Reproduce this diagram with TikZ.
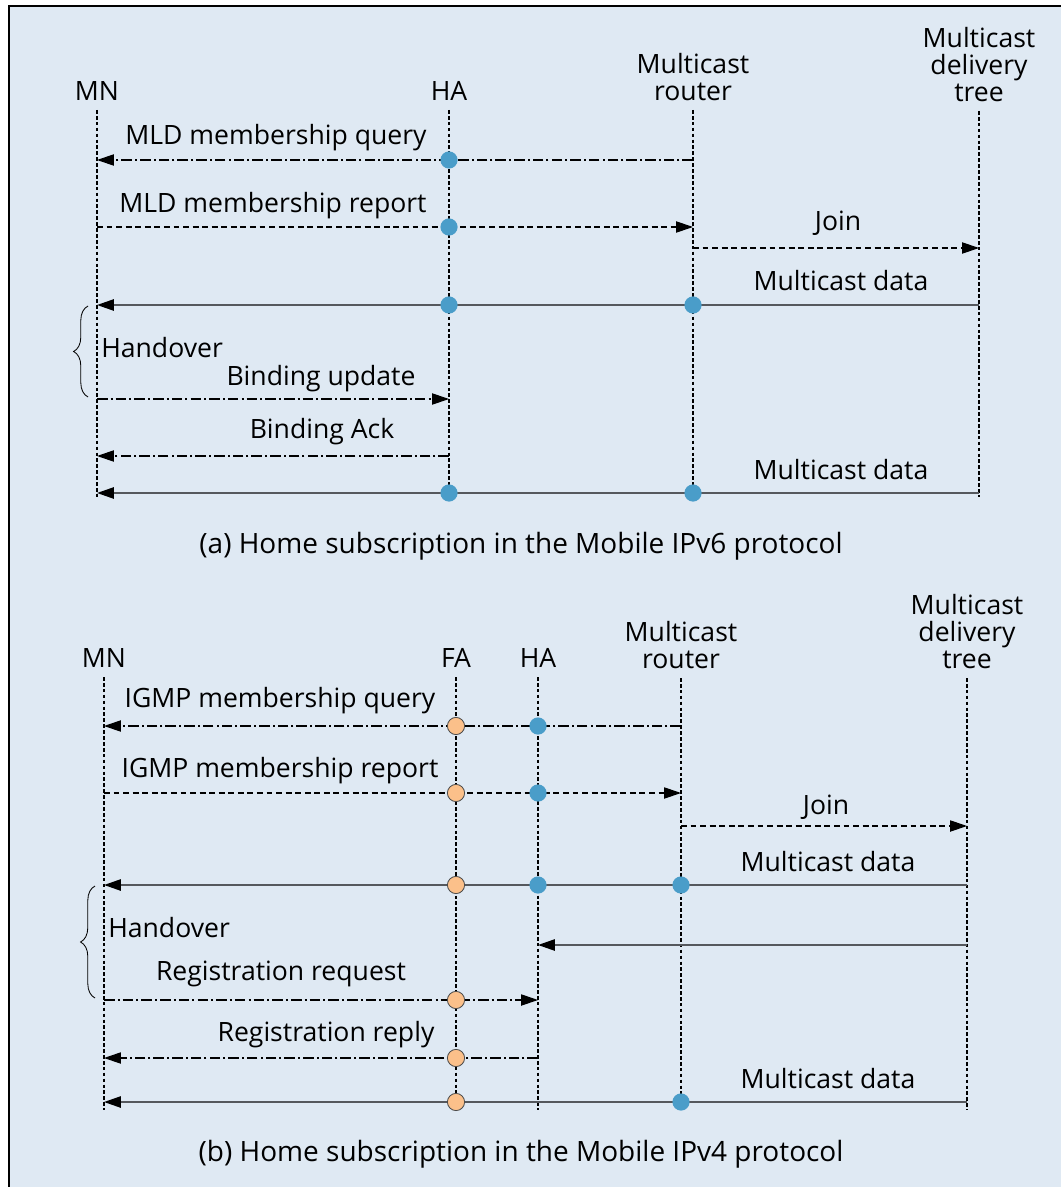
\documentclass[tikz,border=0pt]{standalone}
\usepackage{fontspec}
\setmainfont{Open Sans}
\usepackage{tikz}
\usetikzlibrary{arrows.meta,decorations.pathreplacing}
\definecolor{panel}{HTML}{DFE9F3}
\definecolor{hadot}{HTML}{4A9DC9}
\definecolor{fadot}{HTML}{FBC08A}
\definecolor{datagray}{HTML}{55585D}

\begin{document}
\begin{tikzpicture}[x=0.025cm,y=-0.025cm,>={Triangle[length=4.2mm,width=2.8mm,color=black]},
	every node/.style={font=\fontsize{18.9}{19.2}\selectfont},
	ent/.style={inner sep=0pt,anchor=south,align=center},
	msg/.style={inner sep=0pt,anchor=base},
	capt/.style={msg,font=\fontsize{19.9}{22}\selectfont},
	life/.style={line width=0.8pt,dash pattern=on 2.6pt off 1.6pt},
	dd/.style={line width=0.8pt,dash pattern=on 7.5pt off 2.2pt on 1.4pt off 2.2pt},
	ds/.style={line width=0.8pt,dash pattern=on 4.2pt off 2.6pt},
	dat/.style={line width=1.3pt,draw=datagray},
	bdot/.style={fill=hadot},
	odot/.style={fill=fadot,draw=black!70,line width=0.6pt},
	hbrace/.style={decorate,decoration={brace,amplitude=3.6mm},line width=0.6pt}]
	\useasboundingbox (0,0) rectangle (1061,1187);
	\fill[white] (0,0) rectangle (1061,1187);
	\fill[panel] (9,6) rectangle (1061,1187);
	\draw[line width=1pt] (9,1187) -- (9,6) -- (1061,6);

	\node[ent] (mna) at (97,101)  {MN};
	\node[ent] (haa) at (449,101) {HA};
	\node[ent] (rta) at (693,101) {Multicast\\router};
	\node[ent] (tra) at (979,102) {Multicast\\delivery\\tree};
	\foreach \n in {mna,haa,rta,tra}
		\draw[life] (\n.south) ++(0,9) -- (\n |- 0,497);
	\foreach \r/\y in {a1/160,a2/227,a3/248,a4/305,a5/399,a6/456,a7/493}
		\coordinate (\r) at (0,\y);

	\draw[dd,->] (rta |- a1) -- (mna |- a1);
	\draw[ds,->] (mna |- a2) -- (rta |- a2);
	\draw[ds,->] (rta |- a3) -- (tra |- a3);
	\draw[dat,->] (tra |- a4) -- (mna |- a4);
	\draw[dd,->] (mna |- a5) -- (haa |- a5);
	\draw[dd,->] (haa |- a6) -- (mna |- a6);
	\draw[dat,->] (tra |- a7) -- (mna |- a7);
	\foreach \p in {a1,a2,a4,a7} \fill[bdot] (haa |- \p) circle (2.15mm);
	\foreach \p in {a4,a7} \fill[bdot] (rta |- \p) circle (2.15mm);
	\draw[hbrace] (88,397) -- (88,306);

	\node[msg] (qa)  at (276,145) {MLD membership query};
	\node[msg] (rpa) at (273,213) {MLD membership report};
	\node[msg] (ja)  at (838,231) {Join};
	\node[msg] (da1) at (841,291) {Multicast data};
	\node[msg,anchor=base west] (hoa) at (101,358) {Handover};
	\node[msg] (bu)  at (321,385) {Binding update};
	\node[msg] (ba)  at (322,438) {Binding Ack};
	\node[msg] (da2) at (841,479) {Multicast data};
	\node[capt] (capa) at (521,553) {(a) Home subscription in the Mobile IPv6 protocol};

	\node[ent] (mnb) at (104,668) {MN};
	\node[ent] (fab) at (456,668) {FA};
	\node[ent] (hab) at (538,668) {HA};
	\node[ent] (rtb) at (681,669) {Multicast\\router};
	\node[ent] (trb) at (967,669) {Multicast\\delivery\\tree};
	\foreach \n in {mnb,fab,hab,rtb,trb}
		\draw[life] (\n.south) ++(0,9) -- (\n |- 0,1110);
	\foreach \r/\y in {b1/726,b2/793,b3/826,b4/885,b5/945,b6/1000,b7/1058,b8/1102}
		\coordinate (\r) at (0,\y);

	\draw[dd,->] (rtb |- b1) -- (mnb |- b1);
	\draw[ds,->] (mnb |- b2) -- (rtb |- b2);
	\draw[ds,->] (rtb |- b3) -- (trb |- b3);
	\draw[dat,->] (trb |- b4) -- (mnb |- b4);
	\draw[dat,->] (trb |- b5) -- (hab |- b5);
	\draw[dd,->] (mnb |- b6) -- (hab |- b6);
	\draw[dd,->] (hab |- b7) -- (mnb |- b7);
	\draw[dat,->] (trb |- b8) -- (mnb |- b8);
	\foreach \p in {b1,b2,b4,b6,b7,b8} \filldraw[odot] (fab |- \p) circle (2.15mm);
	\foreach \p in {b1,b2,b4} \fill[bdot] (hab |- \p) circle (2.15mm);
	\foreach \p in {b4,b8} \fill[bdot] (rtb |- \p) circle (2.15mm);
	\draw[hbrace] (95,998) -- (95,886);

	\node[msg] (qb)  at (280,707) {IGMP membership query};
	\node[msg] (rpb) at (280,777) {IGMP membership report};
	\node[msg] (jb)  at (826,814) {Join};
	\node[msg] (db1) at (828,871) {Multicast data};
	\node[msg,anchor=base west] (hob) at (108,937) {Handover};
	\node[msg] (rq)  at (281,980) {Registration request};
	\node[msg] (rr)  at (326,1041) {Registration reply};
	\node[msg] (db2) at (828,1088) {Multicast data};
	\node[capt] (capb) at (521,1161) {(b) Home subscription in the Mobile IPv4 protocol};
\end{tikzpicture}
\end{document}
